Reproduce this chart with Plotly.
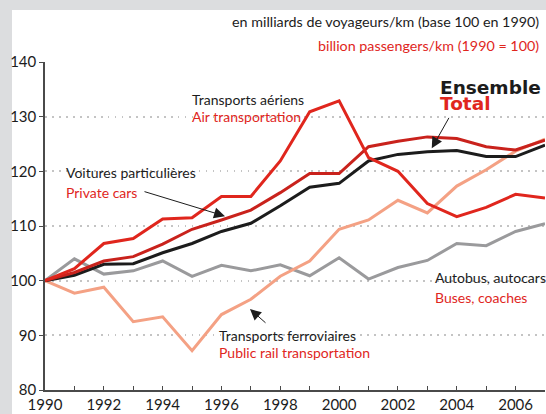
import plotly.graph_objects as go

years = list(range(1990, 2008))
air = [100, 102.2, 106.8, 107.7, 111.3, 111.5, 115.4, 115.4, 121.9, 130.9, 132.9, 122.5, 120.0, 114.1, 111.7, 113.4, 115.8, 115.1]
cars = [100, 101.5, 103.6, 104.4, 106.7, 109.4, 111.1, 112.9, 116.1, 119.6, 119.6, 124.5, 125.5, 126.3, 126.0, 124.5, 123.9, 125.7]
total = [100, 101.0, 103.0, 103.1, 105.1, 106.8, 109.0, 110.5, 113.7, 117.1, 117.8, 121.9, 123.1, 123.6, 123.8, 122.7, 122.7, 124.8]
rail = [100, 97.7, 98.8, 92.5, 93.4, 87.2, 93.8, 96.6, 100.8, 103.6, 109.4, 111.1, 114.7, 112.4, 117.3, 120.3, 123.7, 125.9]
buses = [100, 104.0, 101.2, 101.8, 103.6, 100.8, 102.8, 101.8, 102.9, 100.9, 104.2, 100.3, 102.4, 103.7, 106.8, 106.4, 109.0, 110.4]

x_tick_vals = list(range(1990, 2008))
x_tick_text = [str(y) if y % 2 == 0 and y <= 2006 else "" for y in x_tick_vals]
y_tick_vals = [80, 90, 100, 110, 120, 130, 140]

RED = "#e0261d"
DARKRED = "#c9221c"
BLACK = "#1c1c1c"
SALMON = "#f4a184"
GRAY = "#9a9a9c"
NARROW = "Lato, Roboto, sans-serif"
BOLD = "DejaVu Sans, Verdana, sans-serif"

fig = go.Figure()
for vals, col in [(buses, GRAY), (rail, SALMON), (total, BLACK), (cars, DARKRED), (air, RED)]:
    fig.add_trace(go.Scatter(x=years, y=vals, mode="lines",
                             line=dict(color=col, width=3), showlegend=False,
                             hoverinfo="skip"))

fig.add_shape(type="rect", xref="paper", yref="paper",
              x0=(12 - 45) / 500, x1=1.01, y0=-0.2, y1=(390 - 10) / 328,
              fillcolor="white", line=dict(width=0), layer="below")

def txt(x, y, s, color, font=NARROW, size=14, bold=False, xanchor="left"):
    fig.add_annotation(x=x, y=y, xref="x", yref="y", text=("<b>%s</b>" % s) if bold else s,
                       showarrow=False, xanchor=xanchor, yanchor="middle",
                       font=dict(family=font, size=size, color=color))

def arrow(x, y, ax, ay):
    fig.add_annotation(x=x, y=y, xref="x", yref="y", ax=ax, ay=ay, text="",
                       showarrow=True, arrowhead=2, arrowsize=2.2, arrowwidth=1,
                       arrowcolor=BLACK)

fig.add_annotation(x=0.992, y=(390 - 22) / 328, xref="paper", yref="paper",
                   text="en milliards de voyageurs/km (base 100 en 1990)",
                   showarrow=False, xanchor="right", yanchor="middle",
                   font=dict(family=NARROW, size=14.3, color=BLACK))
fig.add_annotation(x=0.992, y=(390 - 45) / 328, xref="paper", yref="paper",
                   text="billion passengers/km (1990 = 100)",
                   showarrow=False, xanchor="right", yanchor="middle",
                   font=dict(family=NARROW, size=14.3, color=RED))

txt(1994.93, 133.1, "Transports aériens", BLACK)
txt(1994.93, 130.0, "Air transportation", RED)
txt(2003.37, 135.4, "Ensemble", BLACK, font=BOLD, size=18.5, bold=True)
txt(2003.37, 132.4, "Total", RED, font=BOLD, size=18.5, bold=True)
txt(1990.65, 119.8, "Voitures particulières", BLACK)
txt(1990.65, 116.1, "Private cars", RED)
txt(2003.18, 100.5, "Autobus, autocars", BLACK)
txt(2003.18, 97.0, "Buses, coaches", RED)
txt(1995.85, 90.05, "Transports ferroviaires", BLACK)
txt(1995.85, 86.8, "Public rail transportation", RED)

arrow(2003.15, 124.2, 18, -32)
arrow(1996.12, 111.8, -82, -25)
arrow(1996.97, 94.8, 17, 15)

fig.update_layout(
    width=546, height=414,
    margin=dict(l=45, r=1, t=62, b=24),
    paper_bgcolor="#dcdddf",
    plot_bgcolor="rgba(0,0,0,0)",
    xaxis=dict(range=[1990, 2007], tickvals=x_tick_vals, ticktext=x_tick_text,
               showgrid=False, zeroline=False, showline=True, linecolor="#4a4a4a",
               linewidth=2, ticks="inside", ticklen=4, tickcolor="#4a4a4a",
               tickfont=dict(family=NARROW, size=15, color=BLACK)),
    yaxis=dict(range=[80, 140], tickvals=y_tick_vals, showgrid=True,
               gridcolor="#c4c4c4", griddash="1.5px,5.5px", gridwidth=1.5,
               zeroline=False, showline=True, linecolor="#4a4a4a", linewidth=1.5,
               ticks="outside", ticklen=4, tickcolor="#4a4a4a",
               tickfont=dict(family=NARROW, size=15, color=BLACK)),
)

fig.write_html("out.html", config={"displayModeBar": False},
               post_script="document.body.style.margin='0';document.body.style.overflow='hidden';")
